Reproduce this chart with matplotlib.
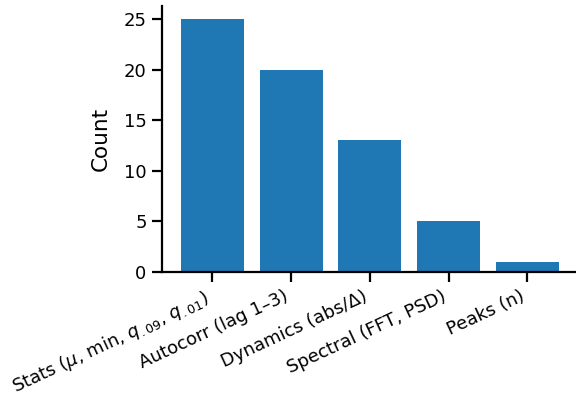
import matplotlib
matplotlib.use("Agg")
import matplotlib.pyplot as plt

categories = [
    r"Stats ($\mu$, min, $q_{.09}$, $q_{.01}$)",
    "Autocorr (lag 1\u20133)",
    "Dynamics (abs/\u0394)",
    "Spectral (FFT, PSD)",
    "Peaks (n)",
]
counts = [25, 20, 13, 5, 1]

fig = plt.figure(figsize=(5.76, 3.96), dpi=100)
ax = fig.add_axes([0.281, 0.313, 0.722, 0.671])

ax.bar(range(len(categories)), counts, width=0.8, color="#1f77b4")
ax.set_xticks(range(len(categories)))
ax.set_xticklabels(categories, rotation=25, ha="right", fontsize=13)
ax.set_ylabel("Count", fontsize=15.5, labelpad=9)
ax.tick_params(axis="both", labelsize=13, length=7.5, width=1.6)

for s in ["top", "right"]:
    ax.spines[s].set_visible(False)
for s in ["left", "bottom"]:
    ax.spines[s].set_linewidth(1.6)

fig.savefig("out.png", dpi=100)
